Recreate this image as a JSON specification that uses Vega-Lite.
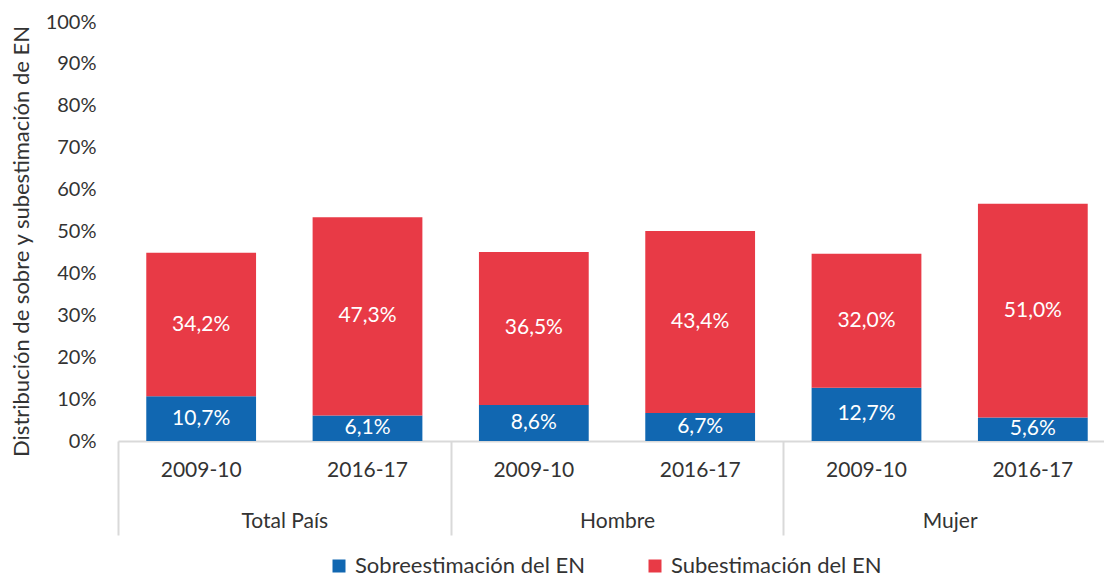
{
  "$schema": "https://vega.github.io/schema/vega-lite/v6.json",
  "width": 986,
  "height": 419,
  "autosize": "none",
  "padding": {"left": 118, "top": 22, "right": 0, "bottom": 139},
  "config": {
    "locale": {"number": {"decimal": ",", "thousands": ".", "grouping": [3], "currency": ["", " €"]}},
    "view": {"stroke": null},
    "font": "Lato",
    "axis": {"labelFont": "Lato", "titleFont": "Lato", "labelColor": "#333333", "titleColor": "#333333", "grid": false},
    "legend": {"labelFont": "Lato"}
  },
  "data": {
    "values": [
      {"group": "Total País", "year": "2009-10", "key": "Total País|2009-10", "serie": "Sobreestimación del EN", "value": 0.107},
      {"group": "Total País", "year": "2009-10", "key": "Total País|2009-10", "serie": "Subestimación del EN", "value": 0.342},
      {"group": "Total País", "year": "2016-17", "key": "Total País|2016-17", "serie": "Sobreestimación del EN", "value": 0.061},
      {"group": "Total País", "year": "2016-17", "key": "Total País|2016-17", "serie": "Subestimación del EN", "value": 0.473},
      {"group": "Hombre", "year": "2009-10", "key": "Hombre|2009-10", "serie": "Sobreestimación del EN", "value": 0.086},
      {"group": "Hombre", "year": "2009-10", "key": "Hombre|2009-10", "serie": "Subestimación del EN", "value": 0.365},
      {"group": "Hombre", "year": "2016-17", "key": "Hombre|2016-17", "serie": "Sobreestimación del EN", "value": 0.067},
      {"group": "Hombre", "year": "2016-17", "key": "Hombre|2016-17", "serie": "Subestimación del EN", "value": 0.434},
      {"group": "Mujer", "year": "2009-10", "key": "Mujer|2009-10", "serie": "Sobreestimación del EN", "value": 0.127},
      {"group": "Mujer", "year": "2009-10", "key": "Mujer|2009-10", "serie": "Subestimación del EN", "value": 0.320},
      {"group": "Mujer", "year": "2016-17", "key": "Mujer|2016-17", "serie": "Sobreestimación del EN", "value": 0.056},
      {"group": "Mujer", "year": "2016-17", "key": "Mujer|2016-17", "serie": "Subestimación del EN", "value": 0.510}
    ]
  },
  "layer": [
    {
      "layer": [
        {
          "mark": {"type": "bar", "width": {"band": 0.66}},
          "encoding": {
            "x": {
              "field": "key", "type": "nominal", "sort": null,
              "scale": {"paddingInner": 0, "paddingOuter": 0, "range": [0, 998]},
              "axis": {
                "title": null, "orient": "bottom", "labelAngle": 0,
                "labelExpr": "split(datum.value, '|')[1]",
                "labelFontSize": 21, "labelPadding": 18, "ticks": false,
                "domainColor": "#d9d9d9", "domainWidth": 2
              }
            },
            "y": {
              "field": "value", "type": "quantitative", "stack": "zero",
              "scale": {"domain": [0, 1]},
              "axis": {
                "values": [0, 0.1, 0.2, 0.3, 0.4, 0.5, 0.6, 0.7, 0.8, 0.9, 1],
                "format": ".0%", "labelFontSize": 20, "labelPadding": 22,
                "domain": false, "ticks": false,
                "title": "Distribución de sobre y subestimación de EN",
                "titleFontSize": 22, "titleFontWeight": "normal", "titlePadding": 12, "titleY": 219
              }
            },
            "color": {
              "field": "serie", "type": "nominal",
              "scale": {"domain": ["Sobreestimación del EN", "Subestimación del EN"], "range": ["#1167B1", "#E83A46"]},
              "legend": {
                "orient": "none", "legendX": 210, "legendY": 533, "direction": "horizontal",
                "title": null, "symbolType": "square", "symbolSize": 169, "symbolStrokeWidth": 0,
                "labelFontSize": 22, "labelColor": "#333333", "columnPadding": 59, "labelOffset": 5,
                "labelLimit": 400
              }
            },
            "order": {"field": "serie", "sort": "ascending"}
          }
        },
        {
          "transform": [
            {"stack": "value", "groupby": ["key"], "sort": [{"field": "serie", "order": "ascending"}], "as": ["v0", "v1"]},
            {"calculate": "(datum.v0 + datum.v1) / 2", "as": "mid"}
          ],
          "mark": {"type": "text", "color": "white", "fontSize": 21, "baseline": "middle", "align": "center"},
          "encoding": {
            "x": {"field": "key", "type": "nominal", "sort": null},
            "y": {"field": "mid", "type": "quantitative"},
            "text": {"field": "value", "type": "quantitative", "format": ".1%"}
          }
        }
      ]
    },
    {
      "mark": {"type": "point", "opacity": 0},
      "encoding": {
        "x": {
          "field": "group", "type": "nominal", "sort": ["Total País", "Hombre", "Mujer"],
          "scale": {"paddingInner": 0, "paddingOuter": 0, "range": [0, 998]},
          "axis": {
            "title": null, "orient": "bottom", "labelAngle": 0, "labelFontSize": 21,
            "domain": false, "ticks": true, "tickSize": 94, "tickColor": "#d9d9d9", "tickWidth": 2,
            "tickBand": "extent", "labelPadding": -25
          }
        },
        "y": {"field": "value", "type": "quantitative"}
      }
    }
  ],
  "resolve": {"scale": {"x": "independent"}, "axis": {"x": "independent"}}
}
